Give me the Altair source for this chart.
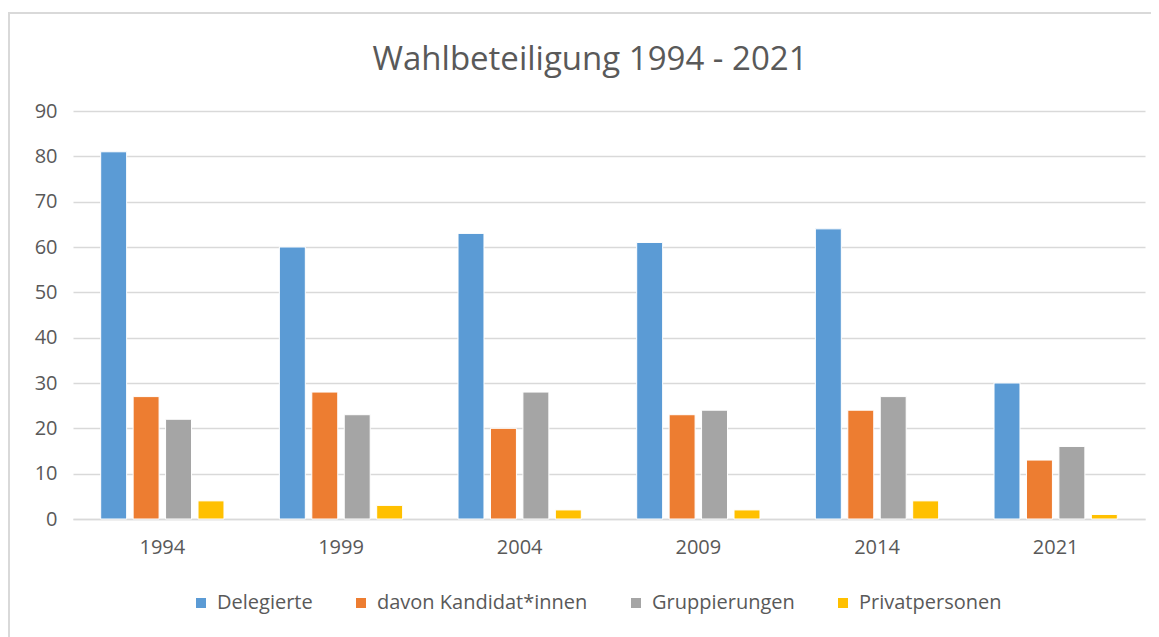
import altair as alt
import pandas as pd

years = ["1994", "1999", "2004", "2009", "2014", "2021"]
series = ["Delegierte", "davon Kandidat*innen", "Gruppierungen", "Privatpersonen"]
delegierte = [81, 60, 63, 61, 64, 30]
kandidaten = [27, 28, 20, 23, 24, 13]
gruppierungen = [22, 23, 28, 24, 27, 16]
privat = [4, 3, 2, 2, 4, 1]
colors = ["#5B9BD5", "#ED7D31", "#A5A5A5", "#FFC000"]

rows = []
for i, y in enumerate(years):
    for s, vals in zip(series, [delegierte, kandidaten, gruppierungen, privat]):
        rows.append({"Jahr": y, "Serie": s, "Wert": vals[i]})
df = pd.DataFrame(rows)

FONT = "Open Sans"
TXT = "#595959"

bars = alt.Chart(df).mark_bar(stroke="white", strokeWidth=1).encode(
    x=alt.X("Jahr:N", sort=years, title=None,
            scale=alt.Scale(paddingInner=0.31, paddingOuter=0.155),
            axis=alt.Axis(labelAngle=0, ticks=False, domain=True, domainColor="#D9D9D9",
                          domainWidth=1.5, labelPadding=18, labelFontSize=20,
                          labelColor=TXT, labelFont=FONT, grid=False)),
    xOffset=alt.XOffset("Serie:N", sort=series, scale=alt.Scale(paddingInner=0.2)),
    y=alt.Y("Wert:Q", title=None,
            scale=alt.Scale(domain=[0, 90]),
            axis=alt.Axis(values=list(range(0, 91, 10)), ticks=False, domain=False,
                          gridColor="#D9D9D9", gridWidth=1.5, labelPadding=16,
                          labelFontSize=20, labelColor=TXT, labelFont=FONT)),
    color=alt.Color("Serie:N", sort=series,
                    scale=alt.Scale(domain=series, range=colors),
                    legend=alt.Legend(title=None, orient="none", direction="horizontal",
                                      columns=4, legendX=118, legendY=482,
                                      symbolType="square", symbolSize=100,
                                      symbolStrokeWidth=0, labelFontSize=20,
                                      labelColor=TXT, labelFont=FONT, labelLimit=400,
                                      columnPadding=38, labelOffset=6)),
)

frame_top = alt.Chart(df).mark_rule(color="#D9D9D9", strokeWidth=2).encode(
    x=alt.value(-65), x2=alt.value(1100), y=alt.value(-98))
frame_left = alt.Chart(df).mark_rule(color="#D9D9D9", strokeWidth=2).encode(
    x=alt.value(-64), y=alt.value(-99), y2=alt.value(540))

chart = alt.layer(frame_top, frame_left, bars).properties(
    width=1072, height=408,
    autosize=alt.AutoSizeParams(type="none"),
    padding={"left": 65, "top": 103, "right": 6, "bottom": 118},
    title=alt.TitleParams("Wahlbeteiligung 1994 - 2021", fontSize=33, font=FONT,
                          color=TXT, fontWeight="normal", anchor="middle",
                          dx=-19, offset=-92, baseline="alphabetic"),
).configure_view(stroke=None)

chart.save("out.html", embed_options={"renderer": "svg", "actions": False})
